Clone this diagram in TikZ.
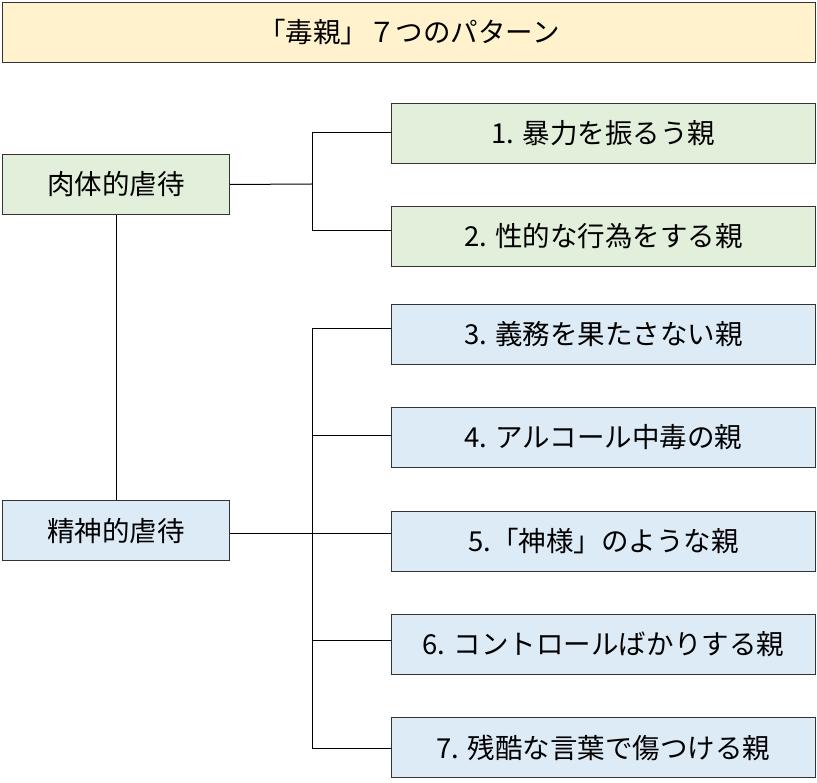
\documentclass[tikz,border=0pt]{standalone}
\usepackage{fontspec}
\setmainfont{Noto Sans CJK JP}
\definecolor{ttl}{HTML}{FFF2CC}
\definecolor{grn}{HTML}{E2EFDA}
\definecolor{blu}{HTML}{DDEBF7}
\begin{document}
\begin{tikzpicture}[x=1pt,y=-1pt,
 bx/.style={draw=black!80,line width=1pt,anchor=north west,inner sep=0pt,font=\fontsize{27.5}{32}\selectfont},
 ln/.style={draw=black,line width=1pt}]
\useasboundingbox (0,0) rectangle (817,783);
\node[bx,fill=ttl,minimum width=813,minimum height=60] (t) at (2,2) {「毒親」７つのパターン};
\node[bx,fill=grn,minimum width=227,minimum height=60] (g) at (2,154) {肉体的虐待};
\node[bx,fill=blu,minimum width=227,minimum height=60] (b) at (2,500) {精神的虐待};
\node[bx,fill=grn,minimum width=424,minimum height=60] (n1) at (391,103) {1. 暴力を振るう親};
\node[bx,fill=grn,minimum width=424,minimum height=60] (n2) at (391,206) {2. 性的な行為をする親};
\node[bx,fill=blu,minimum width=424,minimum height=60] (n3) at (391,304) {3. 義務を果たさない親};
\node[bx,fill=blu,minimum width=424,minimum height=60] (n4) at (391,407) {4. アルコール中毒の親};
\node[bx,fill=blu,minimum width=424,minimum height=60] (n5) at (391,511) {5.「神様」のような親};
\node[bx,fill=blu,minimum width=424,minimum height=60] (n6) at (391,614) {6. コントロールばかりする親};
\node[bx,fill=blu,minimum width=424,minimum height=60] (n7) at (391,717) {7. 残酷な言葉で傷つける親};
\coordinate (ga) at (312,184);
\coordinate (ba) at (312,533);
\draw[ln] (g.east) -- (ga);
\draw[ln] (g.south) -- (b.north);
\draw[ln] (n1.west |- 0,133) -- (312,133) -- (312,231) -- (n2.west |- 0,231);
\draw[ln] (b.east |- ba) -- (ba);
\draw[ln] (n3.west |- 0,329) -- (312,329) -- (312,748) -- (n7.west |- 0,748);
\draw[ln] (312,436) -- (n4.west |- 0,436);
\draw[ln] (312,533) -- (n5.west |- 0,533);
\draw[ln] (312,640) -- (n6.west |- 0,640);
\end{tikzpicture}
\end{document}
